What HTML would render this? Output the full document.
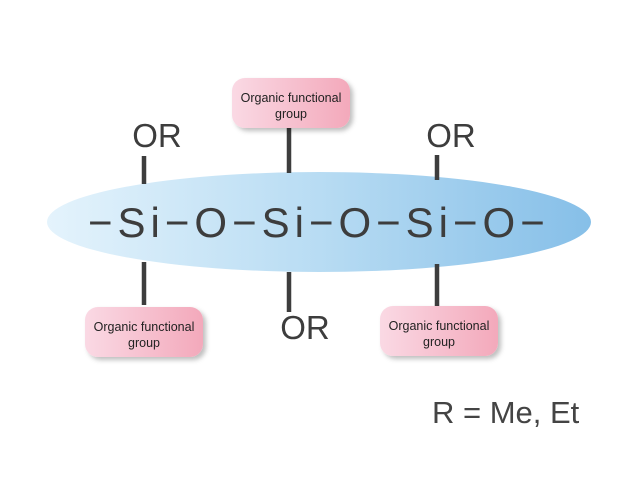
<!DOCTYPE html>
<html><head><meta charset="utf-8"><style>html,body{margin:0;padding:0;background:#fff;width:640px;height:480px;overflow:hidden}</style></head>
<body>
<svg width="640" height="480" viewBox="0 0 640 480" xmlns="http://www.w3.org/2000/svg" font-family="Liberation Sans, sans-serif">
<defs>
<linearGradient id="bl" x1="0" x2="1" y1="0" y2="0">
<stop offset="0" stop-color="#e4f3fc"/><stop offset="0.5" stop-color="#b8dcf3"/><stop offset="1" stop-color="#86bfe8"/></linearGradient>
<linearGradient id="pk" x1="0" x2="1" y1="0" y2="0">
<stop offset="0" stop-color="#fad9e4"/><stop offset="1" stop-color="#f3a9bb"/></linearGradient>
<filter id="sh" x="-20%" y="-20%" width="150%" height="160%"><feDropShadow dx="3" dy="3" stdDeviation="2.5" flood-color="#000" flood-opacity="0.25"/></filter>
</defs>
<ellipse cx="319" cy="222" rx="272" ry="50" fill="url(#bl)"/>
<g stroke="#3d3d3d" stroke-width="4.5">
<line x1="144" y1="156" x2="144" y2="184"/>
<line x1="144" y1="262" x2="144" y2="305"/>
<line x1="289" y1="128" x2="289" y2="173"/>
<line x1="289" y1="272" x2="289" y2="312"/>
<line x1="437" y1="155" x2="437" y2="180"/>
<line x1="437" y1="264" x2="437" y2="306"/>
</g>
<g filter="url(#sh)">
<rect x="232" y="78" width="118" height="50" rx="13" fill="url(#pk)"/>
<rect x="85" y="307" width="118" height="50" rx="13" fill="url(#pk)"/>
<rect x="380" y="306" width="118" height="50" rx="13" fill="url(#pk)"/>
</g>
<g font-size="12.5" fill="#222" text-anchor="middle">
<text x="291" y="102">Organic functional</text><text x="291" y="118">group</text>
<text x="144" y="331">Organic functional</text><text x="144" y="347">group</text>
<text x="439" y="330">Organic functional</text><text x="439" y="346">group</text>
</g>
<g font-size="33" fill="#3d3d3d" text-anchor="middle">
<text x="157" y="147">OR</text>
<text x="451" y="147">OR</text>
<text x="305" y="339">OR</text>
</g>
<text x="88" y="237" font-size="42" fill="#3d3d3d" letter-spacing="5">−Si−O−Si−O−Si−O−</text>
<text x="432" y="423" font-size="31" fill="#444">R = Me, Et</text>
</svg>
</body></html>
